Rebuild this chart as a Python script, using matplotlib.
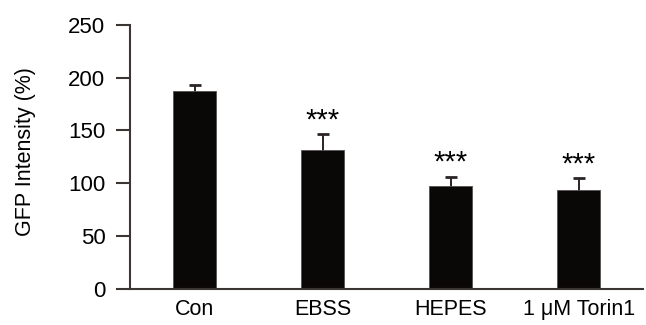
import matplotlib
matplotlib.use('Agg')
import matplotlib.pyplot as plt

plt.rcParams['font.family'] = ['Liberation Sans', 'DejaVu Sans']

groups = ['Con', 'EBSS', 'HEPES', '1 \u03bcM Torin1']
gfp = [187, 131.5, 97.5, 94]
sem = [5.5, 15, 8.5, 10.5]
signif = ['', '***', '***', '***']

axis_col = '#3b3633'

fig = plt.figure(figsize=(6.46, 3.25), dpi=100)
ax = fig.add_axes([0.202, 0.111, 0.793, 0.813])

x = list(range(len(groups)))
# symmetric error bars drawn behind the bars, so only the upper half shows
ax.errorbar(x, gfp, yerr=sem, fmt='none', ecolor='#2a2524', elinewidth=1.4,
            capsize=4, capthick=2, zorder=1)
ax.bar(x, gfp, width=0.335, color='#0a0707', edgecolor='#555050', linewidth=0.6,
       zorder=2)

for xi, v, e, s in zip(x, gfp, sem, signif):
    if s:
        ax.annotate(s, (xi, v + e), xytext=(0, 0), textcoords='offset points',
                    ha='center', va='bottom', fontsize=21)

ax.set_xlim(-0.5, 3.5)
ax.set_ylim(0, 250)
ax.set_yticks([0, 50, 100, 150, 200, 250])
ax.set_xticks(x)
ax.set_xticklabels(groups, fontsize=15.5)
ax.tick_params(axis='y', labelsize=16, length=10, width=1.5, color=axis_col, pad=8)
ax.tick_params(axis='x', length=0, pad=7)
ax.set_ylabel('GFP Intensity (%)', fontsize=15.5)
ax.yaxis.set_label_coords(-0.185, 0.52)

for sp in ['top', 'right']:
    ax.spines[sp].set_visible(False)
for sp in ['left', 'bottom']:
    ax.spines[sp].set_color(axis_col)
    ax.spines[sp].set_linewidth(1.5)

fig.savefig('out.png', dpi=100)
